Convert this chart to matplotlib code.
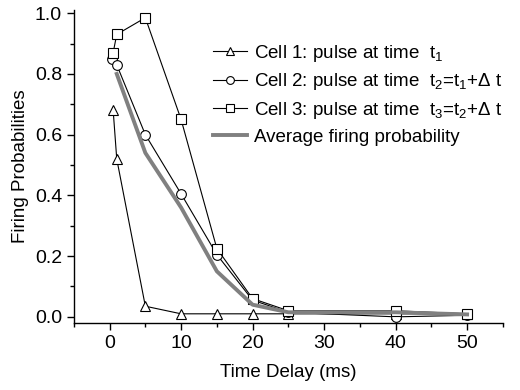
import numpy as np
import matplotlib.pyplot as plt
from matplotlib.ticker import MultipleLocator

plt.rcParams['font.family'] = ['Liberation Sans', 'DejaVu Sans']
plt.rcParams['mathtext.default'] = 'regular'

# data
x_cell1 = [0.5, 1, 5, 10, 15, 20, 25, 40, 50]
y_cell1 = [0.68, 0.52, 0.035, 0.01, 0.01, 0.01, 0.01, 0.01, 0.01]

x_cell2 = [0.3, 1, 5, 10, 15, 20, 25, 40, 50]
y_cell2 = [0.85, 0.83, 0.60, 0.405, 0.205, 0.055, 0.015, 0.0, 0.005]

x_cell3 = [0.5, 1, 5, 10, 15, 20, 25, 40, 50]
y_cell3 = [0.87, 0.93, 0.985, 0.65, 0.225, 0.06, 0.02, 0.02, 0.01]

x_avg = [1, 5, 10, 15, 20, 25, 40, 50]
y_avg = [0.80, 0.54, 0.36, 0.15, 0.04, 0.015, 0.015, 0.008]

labels = ["Cell 1: pulse at time  t$_1$",
          "Cell 2: pulse at time  t$_2$=t$_1$+$\\Delta$ t",
          "Cell 3: pulse at time  t$_3$=t$_2$+$\\Delta$ t",
          "Average firing probability"]

fig = plt.figure(figsize=(5.2, 3.9), dpi=100)
ax = fig.add_axes([0.142, 0.172, 0.825, 0.802])

mk = dict(color='black', lw=0.8, markersize=7, markerfacecolor='white',
          markeredgecolor='black', markeredgewidth=0.8)
ax.plot(x_cell1, y_cell1, marker='^', label=labels[0], **mk)
ax.plot(x_cell2, y_cell2, marker='o', label=labels[1], **mk)
ax.plot(x_cell3, y_cell3, marker='s', label=labels[2], **mk)
ax.plot(x_avg, y_avg, color='#808080', lw=2.8, label=labels[3], zorder=5)

ax.set_xlim(-5, 55)
ax.set_ylim(-0.02, 1.01)
ax.xaxis.set_major_locator(MultipleLocator(10))
ax.xaxis.set_minor_locator(MultipleLocator(5))
ax.yaxis.set_major_locator(MultipleLocator(0.2))
ax.yaxis.set_minor_locator(MultipleLocator(0.1))
ax.yaxis.set_major_formatter(plt.FormatStrFormatter('%.1f'))
ax.tick_params(which='major', direction='out', length=5, width=1, labelsize=14)
ax.tick_params(which='minor', direction='out', length=3, width=1)

for s in ['top', 'right']:
    ax.spines[s].set_visible(False)
for s in ['left', 'bottom']:
    ax.spines[s].set_linewidth(1)

ax.set_xlabel("Time Delay (ms)", fontsize=13.5, labelpad=9)
ax.set_ylabel("Firing Probabilities", fontsize=13.5, labelpad=4)

ax.legend(loc='upper left', bbox_to_anchor=(0.324, 0.895), frameon=False,
          fontsize=13.5, handlelength=1.8, handletextpad=0.4, labelspacing=0.4,
          borderaxespad=0, borderpad=0, markerscale=0.8)

plt.savefig("out.png", dpi=100)
